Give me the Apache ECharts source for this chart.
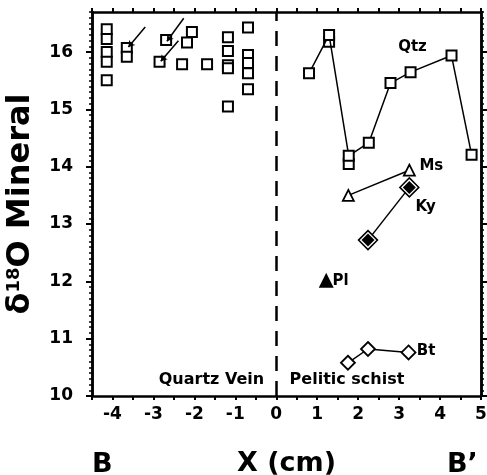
<!DOCTYPE html>
<html>
<head>
<meta charset="utf-8">
<script src="https://cdn.jsdelivr.net/npm/echarts@6/dist/echarts.min.js"></script>
<style>
html,body{margin:0;padding:0;background:#fff;}
#chart{width:487px;height:475px;}
</style>
</head>
<body>
<div id="chart"></div>
<script>
// ---- data ----
const xTickLabels = [-4, -3, -2, -1, 0, 1, 2, 3, 4, 5];
const yTickLabels = [10, 11, 12, 13, 14, 15, 16];

// Quartz vein (left of contact)
const veinX = [-4.14, -4.14, -4.14, -4.14, -4.14, -3.65, -3.65, -2.69, -2.85, -2.18, -2.06, -2.30, -1.69,
               -1.18, -1.18, -1.18, -1.18, -1.18, -0.69, -0.69, -0.69, -0.69, -0.69];
const veinY = [16.40, 16.23, 16.00, 15.83, 15.51, 16.07, 15.92, 16.21, 15.83, 16.17, 16.35, 15.79, 15.79,
               16.26, 16.02, 15.77, 15.72, 15.05, 16.43, 15.95, 15.81, 15.63, 15.35];

// Pelitic schist minerals
const qtzX = [0.80, 1.29, 1.77, 2.26, 2.79, 3.28, 4.28, 4.77];
const qtzY = [15.63, 16.30, 14.19, 14.42, 15.46, 15.65, 15.94, 14.21];
const qtzExtraX = [1.29, 1.77];
const qtzExtraY = [16.18, 14.05];
const msX = [1.76, 3.25];
const msY = [13.50, 13.94];
const kyX = [2.24, 3.25];
const kyY = [12.72, 13.64];
const plX = [1.22];
const plY = [12.02];
const btX = [1.75, 2.24, 3.23];
const btY = [10.58, 10.82, 10.76];

// annotation arrows (from, to)
const arrowFrom = [[-3.20, 16.44], [-2.26, 16.59], [-2.39, 16.20]];
const arrowTo = [[-3.61, 16.09], [-2.67, 16.19], [-2.82, 15.84]];

// text annotations
const noteText = ['Qtz', 'Ms', 'Ky', 'Pl', 'Bt', 'Quartz Vein', 'Pelitic schist'];
const noteX = [3.34, 3.80, 3.66, 1.58, 3.67, -1.57, 1.74];
const noteY = [16.07, 14.00, 13.28, 11.99, 10.77, 10.28, 10.28];
const noteSize = [15, 15, 15, 15, 15, 16, 16];

// ---- chart ----
const FONT = 'DejaVu Sans';
const zip = (xs, ys) => xs.map((x, i) => [x, ys[i]]);
const range = (a, b, s) => { const r = []; for (let v = a; v <= b + 1e-9; v += s) r.push(Math.round(v * 100) / 100); return r; };

const xMin = -4.5, xMax = 5, yMin = 10, yMax = 16.7;
const halfTicks = range(-4.5, 5, 0.5);
const minorY = range(10, 16.7, 0.1);

const baseX = {
  type: 'value', min: xMin, max: xMax, splitLine: {show: false},
  axisLine: {show: true, onZero: false, lineStyle: {color: '#000', width: 2.5}}
};
const baseY = {
  type: 'value', min: yMin, max: yMax, splitLine: {show: false},
  axisLine: {show: true, onZero: false, lineStyle: {color: '#000', width: 2.5}}
};

const chart = echarts.init(document.getElementById('chart'), null, {renderer: 'canvas'});
const black = '#000';
const openStyle = {color: '#fff', borderColor: black, borderWidth: 2, opacity: 1};

chart.setOption({
  backgroundColor: '#fff',
  animation: false,
  textStyle: {fontFamily: FONT, fontWeight: 'bold', color: black},
  grid: {left: 92, right: 6, top: 12, bottom: 79, containLabel: false, outerBoundsMode: 'none'},
  xAxis: [
    Object.assign({}, baseX, {
      position: 'bottom',
      name: 'X (cm)', nameLocation: 'middle', nameGap: 54,
      nameTextStyle: {fontFamily: FONT, fontWeight: 'bold', fontSize: 27, color: black},
      axisTick: {show: true, inside: false, length: 4, lineStyle: {color: black, width: 2}, customValues: halfTicks},
      axisLabel: {show: true, margin: 10, fontFamily: FONT, fontWeight: 'bold', fontSize: 17, color: black, customValues: xTickLabels}
    }),
    Object.assign({}, baseX, {
      position: 'top',
      axisTick: {show: true, inside: false, length: 4, lineStyle: {color: black, width: 2}, customValues: halfTicks},
      axisLabel: {show: false}
    })
  ],
  yAxis: [
    Object.assign({}, baseY, {
      position: 'left',
      name: '{d|δ}{s|18}{d|O Mineral}', nameLocation: 'middle', nameGap: 55, nameRotate: 90,
      nameTextStyle: {
        rich: {
          d: {fontFamily: FONT, fontWeight: 'bold', fontSize: 32, color: black},
          s: {fontFamily: FONT, fontWeight: 'bold', fontSize: 18, color: black, verticalAlign: 'top', padding: [0, 0, 14, 0]}
        }
      },
      axisTick: {show: true, inside: false, length: 6, lineStyle: {color: black, width: 2}, customValues: yTickLabels},
      axisLabel: {show: true, margin: 19, fontFamily: FONT, fontWeight: 'bold', fontSize: 17, color: black, customValues: yTickLabels}
    }),
    Object.assign({}, baseY, {
      position: 'left',
      axisTick: {show: true, inside: false, length: 3, lineStyle: {color: black, width: 1.5}, customValues: minorY},
      axisLabel: {show: false}
    }),
    Object.assign({}, baseY, {
      position: 'right',
      axisTick: {show: true, inside: false, length: 6, lineStyle: {color: black, width: 2}, customValues: yTickLabels},
      axisLabel: {show: false}
    }),
    Object.assign({}, baseY, {
      position: 'right',
      axisTick: {show: true, inside: false, length: 3, lineStyle: {color: black, width: 1.5}, customValues: minorY},
      axisLabel: {show: false}
    })
  ],
  graphic: [
    {type: 'text', left: 92, top: 451, style: {text: 'B', font: 'bold 27px "DejaVu Sans"', fill: black}},
    {type: 'text', left: 447, top: 451, style: {text: 'B\u2019', font: 'bold 27px "DejaVu Sans"', fill: black}}
  ],
  series: [
    {
      name: 'contact', type: 'line', data: [], silent: true,
      markLine: {
        symbol: ['none', 'none'], silent: true, label: {show: false},
        lineStyle: {color: black, type: [15, 10], width: 2.5},
        data: [{xAxis: 0}]
      }
    },
    {
      name: 'arrows', type: 'line', data: [], silent: true,
      markLine: {
        symbol: ['none', 'arrow'], symbolSize: 6, silent: true, label: {show: false},
        lineStyle: {color: black, type: 'solid', width: 1.5},
        data: arrowFrom.map((f, i) => [{coord: f}, {coord: arrowTo[i]}])
      }
    },
    {
      name: 'Quartz vein', type: 'scatter', symbol: 'rect', symbolSize: 10,
      itemStyle: openStyle, data: zip(veinX, veinY)
    },
    {
      name: 'Qtz', type: 'line', symbol: 'rect', symbolSize: 10, showAllSymbol: true,
      lineStyle: {color: black, width: 1.5}, itemStyle: openStyle, data: zip(qtzX, qtzY)
    },
    {
      name: 'Qtz dup', type: 'scatter', symbol: 'rect', symbolSize: 10,
      itemStyle: openStyle, data: zip(qtzExtraX, qtzExtraY)
    },
    {
      name: 'Ms', type: 'line', symbol: 'triangle', symbolSize: 11,
      lineStyle: {color: black, width: 1.5}, itemStyle: {color: '#fff', borderColor: black, borderWidth: 1.8}, data: zip(msX, msY)
    },
    {
      name: 'Ky', type: 'line', symbol: 'diamond', symbolSize: 19,
      lineStyle: {color: black, width: 1.5}, itemStyle: {color: '#fff', borderColor: black, borderWidth: 1.5}, data: zip(kyX, kyY)
    },
    {
      name: 'Ky core', type: 'scatter', symbol: 'diamond', symbolSize: 13, z: 5,
      itemStyle: {color: black, borderWidth: 0, opacity: 1}, data: zip(kyX, kyY)
    },
    {
      name: 'Pl', type: 'scatter', symbol: 'triangle', symbolSize: 15,
      itemStyle: {color: black, opacity: 1}, data: zip(plX, plY)
    },
    {
      name: 'Bt', type: 'line', symbol: 'diamond', symbolSize: 14,
      lineStyle: {color: black, width: 1.5}, itemStyle: {color: '#fff', borderColor: black, borderWidth: 1.8}, data: zip(btX, btY)
    },
    {
      name: 'notes', type: 'scatter', symbolSize: 1, silent: true, z: 6,
      itemStyle: {color: 'rgba(0,0,0,0)', opacity: 1},
      label: {show: true, position: [0, 0], align: 'center', verticalAlign: 'middle', color: '#000', opacity: 1},
      data: noteText.map((t, i) => ({
        name: t, value: [noteX[i], noteY[i]],
        label: {show: true, formatter: t, fontFamily: FONT, fontWeight: 'bold', fontSize: noteSize[i], color: '#000'}
      }))
    }
  ]
});
</script>
</body>
</html>
